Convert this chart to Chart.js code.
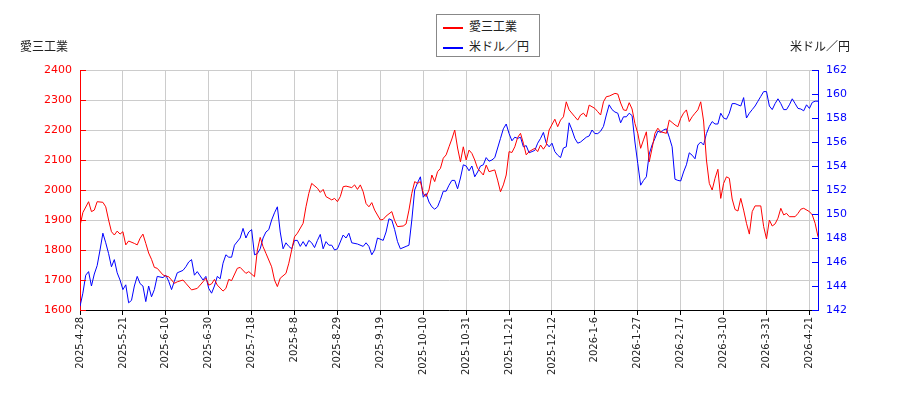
<!DOCTYPE html>
<html>
<head>
<meta charset="utf-8">
<script src="https://cdn.jsdelivr.net/npm/chart.js@4"></script>
<style>
  body { margin: 0; background: #fff; }
  .wrap { position: relative; width: 900px; height: 400px; font-family: "Noto Sans CJK JP", "DejaVu Sans", sans-serif; color: #222; }
  .axis-title { position: absolute; top: 37px; font-size: 12px; }
  .legend { position: absolute; left: 436px; top: 14px; width: 102px; height: 41px; border: 1px solid #888; background: #fff; font-size: 12px; }
  .legend div { position: absolute; left: 6px; height: 16px; line-height: 16px; }
  .legend i { display: inline-block; width: 20px; height: 0; border-top: 2px solid; vertical-align: middle; margin-right: 6px; }
</style>
</head>
<body>
<div class="wrap">
  <canvas id="myChart" width="900" height="400"></canvas>
  <div class="axis-title" style="left:20px">愛三工業</div>
  <div class="axis-title" style="left:790px">米ドル／円</div>
  <div class="legend">
    <div style="top:3px"><i style="border-color:#f00"></i>愛三工業</div>
    <div style="top:23px"><i style="border-color:#00f"></i>米ドル／円</div>
  </div>
</div>
<script>
// tick labels, one every 15 trading days
const dateLabels = [
  "2025-4-28", "2025-5-21", "2025-6-10", "2025-6-30", "2025-7-18", "2025-8-8",
  "2025-8-29", "2025-9-19", "2025-10-10", "2025-10-31", "2025-11-21", "2025-12-12",
  "2026-1-6", "2026-1-27", "2026-2-17", "2026-3-10", "2026-3-31", "2026-4-21",
];

// 愛三工業 (trading day index, price)
const aisanDay = [
  0, 1, 3, 4, 5, 6, 8, 9, 10, 11, 12, 13, 14, 15, 16, 17, 19, 20, 21, 22,
  23, 24, 25, 26, 27, 29, 30, 31, 32, 33, 34, 36, 37, 39, 41, 43, 44, 45, 46, 47,
  48, 50, 51, 52, 53, 55, 56, 58, 59, 61, 62, 63, 64, 65, 67, 68, 69, 70, 72, 73,
  74, 75, 76, 78, 79, 80, 81, 83, 84, 85, 86, 88, 89, 90, 91, 92, 93, 95, 96, 97,
  98, 99, 100, 101, 102, 103, 105, 106, 107, 109, 110, 111, 113, 114, 115, 116, 117, 118, 119, 120,
  121, 122, 123, 124, 125, 126, 127, 128, 129, 130, 131, 132, 133, 134, 135, 136, 137, 138, 139, 141,
  142, 143, 145, 146, 147, 148, 149, 150, 151, 152, 153, 154, 155, 156, 157, 159, 160, 161, 162, 163,
  164, 166, 167, 168, 169, 170, 171, 173, 174, 175, 176, 177, 178, 180, 181, 182, 183, 184, 185, 187,
  188, 189, 190, 191, 192, 193, 194, 195, 196, 197, 198, 199, 200, 201, 202, 203, 205, 206, 207, 208,
  209, 210, 211, 212, 213, 214, 215, 216, 217, 218, 219, 220, 221, 222, 223, 224, 225, 226, 227, 228,
  229, 230, 231, 232, 233, 234, 235, 236, 238, 239, 240, 241, 242, 243, 244, 245, 246, 247, 248, 250,
  251, 252, 253, 255, 256, 257, 258,
];
const aisanClose = [
  1880, 1925, 1961, 1928, 1933, 1961, 1959, 1944, 1900, 1861, 1850, 1863, 1853, 1861, 1817, 1830, 1822, 1817, 1839, 1853,
  1822, 1790, 1769, 1742, 1739, 1717, 1713, 1711, 1700, 1689, 1694, 1700, 1689, 1667, 1672, 1694, 1706, 1683, 1687, 1702,
  1683, 1663, 1672, 1702, 1698, 1739, 1742, 1722, 1728, 1711, 1800, 1842, 1811, 1789, 1744, 1700, 1678, 1706, 1722, 1756,
  1800, 1844, 1856, 1889, 1944, 1989, 2022, 2006, 1992, 2002, 1978, 1967, 1972, 1961, 1978, 2011, 2013, 2008, 2017, 2002,
  2017, 1994, 1955, 1944, 1958, 1933, 1900, 1902, 1913, 1928, 1898, 1878, 1880, 1887, 1933, 1989, 2028, 2022, 2028, 1989,
  1978, 2000, 2050, 2028, 2061, 2072, 2106, 2117, 2144, 2170, 2200, 2140, 2094, 2144, 2100, 2133, 2122, 2100, 2072, 2050,
  2083, 2061, 2067, 2033, 1994, 2017, 2050, 2128, 2125, 2144, 2175, 2189, 2156, 2117, 2128, 2139, 2128, 2150, 2136, 2150,
  2200, 2236, 2211, 2233, 2244, 2294, 2267, 2244, 2233, 2250, 2256, 2244, 2283, 2272, 2261, 2250, 2294, 2311, 2313, 2322,
  2320, 2290, 2267, 2265, 2291, 2270, 2222, 2189, 2139, 2167, 2194, 2094, 2139, 2189, 2206, 2194, 2189, 2233, 2225, 2217,
  2211, 2239, 2256, 2267, 2228, 2244, 2256, 2267, 2294, 2230, 2100, 2022, 2000, 2039, 2069, 1972, 2022, 2044, 2039, 1970,
  1935, 1930, 1972, 1933, 1889, 1853, 1928, 1947, 1947, 1878, 1837, 1900, 1880, 1887, 1906, 1939, 1917, 1922, 1911, 1911,
  1922, 1936, 1939, 1928, 1917, 1889, 1844,
];

// 米ドル／円 (trading day index, rate)
const usdDay = [
  0, 1, 2, 3, 4, 5, 6, 7, 8, 9, 10, 11, 12, 13, 14, 15, 16, 17, 18, 19,
  20, 21, 22, 23, 24, 25, 26, 27, 29, 30, 31, 32, 33, 34, 36, 37, 38, 39, 40, 41,
  43, 44, 45, 46, 47, 48, 49, 50, 51, 52, 53, 54, 56, 57, 58, 59, 60, 61, 62, 63,
  64, 65, 66, 67, 68, 69, 70, 71, 72, 73, 74, 75, 76, 77, 78, 79, 80, 81, 82, 83,
  84, 85, 86, 87, 88, 89, 90, 92, 93, 94, 95, 97, 99, 100, 101, 102, 103, 104, 106, 107,
  108, 109, 110, 111, 112, 114, 115, 116, 117, 118, 119, 120, 121, 122, 123, 124, 125, 126, 127, 128,
  129, 130, 131, 132, 133, 134, 135, 136, 137, 138, 139, 140, 141, 142, 143, 144, 145, 146, 147, 148,
  149, 150, 151, 152, 153, 154, 155, 156, 157, 158, 159, 160, 161, 162, 163, 164, 165, 166, 167, 168,
  169, 170, 171, 172, 173, 174, 175, 177, 178, 179, 180, 181, 182, 183, 184, 185, 186, 187, 188, 189,
  190, 191, 192, 193, 194, 195, 196, 197, 198, 199, 200, 201, 202, 203, 204, 205, 206, 207, 208, 209,
  210, 211, 212, 213, 214, 215, 216, 217, 218, 219, 220, 221, 222, 223, 224, 225, 226, 227, 228, 229,
  230, 231, 232, 233, 234, 235, 236, 237, 238, 239, 240, 241, 242, 243, 244, 245, 246, 247, 248, 249,
  250, 251, 252, 253, 254, 255, 256, 257, 258,
];
const usdRate = [
  142.3, 143.4, 144.9, 145.2, 144.0, 145.0, 145.7, 147.0, 148.4, 147.6, 146.7, 145.6, 146.2, 145.1, 144.5, 143.7, 144.1, 142.6, 142.8, 144.0,
  144.8, 144.2, 144.0, 142.7, 144.0, 143.1, 143.7, 144.8, 144.7, 144.9, 144.4, 143.7, 144.4, 145.1, 145.3, 145.6, 146.0, 146.2, 144.9, 145.2,
  144.5, 144.8, 143.8, 143.4, 144.0, 144.8, 144.6, 145.9, 146.6, 146.4, 146.4, 147.4, 148.0, 148.8, 148.0, 148.5, 148.7, 146.6, 146.7, 147.1,
  148.0, 148.5, 148.7, 149.5, 150.1, 150.6, 148.5, 147.1, 147.6, 147.3, 147.1, 147.8, 147.8, 147.3, 147.7, 147.3, 147.8, 147.6, 147.2, 147.8,
  148.3, 147.1, 147.7, 147.4, 147.4, 147.0, 147.1, 148.25, 148.0, 148.4, 147.6, 147.5, 147.3, 147.6, 147.3, 146.6, 147.0, 148.0, 147.8, 148.5,
  149.6, 149.5, 148.7, 147.7, 147.1, 147.3, 147.4, 149.5, 152.0, 152.6, 153.1, 151.4, 151.7, 151.0, 150.6, 150.4, 150.6, 151.2, 151.9, 151.9,
  152.4, 152.8, 152.8, 152.1, 153.0, 154.1, 154.0, 153.6, 154.0, 153.1, 153.5, 154.0, 154.1, 154.7, 154.4, 154.5, 154.7, 155.5, 156.3, 157.1,
  157.5, 156.7, 156.1, 156.4, 156.3, 156.4, 155.6, 155.7, 155.1, 155.2, 155.3, 155.9, 156.3, 156.8, 155.9, 155.6, 155.9, 155.2, 154.9, 154.7,
  155.5, 155.6, 157.6, 157.0, 156.3, 155.9, 156.0, 156.4, 156.5, 157.0, 156.7, 156.7, 156.9, 157.3, 158.25, 159.1, 158.7, 158.5, 158.4, 157.6,
  158.1, 158.1, 158.4, 158.2, 156.0, 154.2, 152.4, 152.8, 153.1, 155.0, 155.75, 156.3, 156.9, 156.8, 157.0, 157.1, 156.4, 155.6, 152.9, 152.8,
  152.75, 153.5, 154.1, 155.1, 154.9, 154.6, 155.75, 156.0, 155.75, 156.7, 157.3, 157.7, 157.5, 157.5, 158.4, 158.0, 157.9, 158.4, 159.2, 159.2,
  159.1, 159.0, 159.7, 158.0, 158.4, 158.7, 159.0, 159.4, 159.8, 160.2, 160.2, 159.0, 158.7, 159.2, 159.6, 159.2, 158.7, 158.7, 159.1, 159.6,
  159.2, 158.8, 158.75, 158.6, 159.1, 158.8, 159.3, 159.4, 159.4,
];

const lastDay = 258;
const tickFont = { family: "DejaVu Sans", size: 11 };

// short inward ticks on both value axes, long ones at labelled values
const innerTicks = {
  id: "innerTicks",
  afterDraw(chart) {
    const ctx = chart.ctx;
    const area = chart.chartArea;
    ctx.save();
    ctx.lineWidth = 1;
    chart.scales.y.ticks.forEach((t) => {
      const py = Math.round(chart.scales.y.getPixelForValue(t.value)) + 0.5;
      const len = t.value % 100 === 0 ? 6 : 3;
      ctx.strokeStyle = "#f00";
      ctx.beginPath();
      ctx.moveTo(area.left, py);
      ctx.lineTo(area.left + len, py);
      ctx.stroke();
    });
    chart.scales.y1.ticks.forEach((t) => {
      const py = Math.round(chart.scales.y1.getPixelForValue(t.value)) + 0.5;
      const len = t.value % 2 === 0 ? 6 : 3;
      ctx.strokeStyle = "#00f";
      ctx.beginPath();
      ctx.moveTo(area.right - len, py);
      ctx.lineTo(area.right, py);
      ctx.stroke();
    });
    ctx.restore();
  },
};

const chartConfig = {
  type: "line",
  data: {
    datasets: [
      {
        label: "愛三工業",
        data: aisanDay.map((d, i) => ({ x: d, y: aisanClose[i] })),
        borderColor: "#f00",
        borderWidth: 1,
        pointRadius: 0,
        yAxisID: "y",
      },
      {
        label: "米ドル／円",
        data: usdDay.map((d, i) => ({ x: d, y: usdRate[i] })),
        borderColor: "#00f",
        borderWidth: 1,
        pointRadius: 0,
        yAxisID: "y1",
      },
    ],
  },
  options: {
    responsive: false,
    animation: false,
    layout: { padding: { top: 70, left: 0, right: 0, bottom: 0 } },
    plugins: { legend: { display: false }, tooltip: { enabled: false } },
    scales: {
      x: {
        type: "linear",
        min: 0,
        max: lastDay,
        afterFit(scale) {
          scale.height = 90;
        },
        ticks: {
          stepSize: 15,
          includeBounds: false,
          autoSkip: false,
          minRotation: 90,
          maxRotation: 90,
          padding: 2,
          color: "#222",
          font: { family: "DejaVu Sans", size: 10 },
          callback: (v) => (v % 15 === 0 ? dateLabels[v / 15] : ""),
        },
        grid: { color: "#cccccc", tickColor: "#000", tickLength: 5 },
        border: { color: "#000", width: 1 },
      },
      y: {
        position: "left",
        min: 1600,
        max: 2400,
        afterFit(scale) {
          scale.width = 80;
        },
        ticks: {
          stepSize: 50,
          padding: 8,
          color: "#f00",
          font: tickFont,
          callback: (v) => (v % 100 === 0 ? v : ""),
        },
        grid: {
          drawTicks: false,
          color: (c) => (c.tick && c.tick.value % 100 === 0 ? "#cccccc" : "rgba(0,0,0,0)"),
        },
        border: { color: "#f00", width: 1 },
      },
      y1: {
        position: "right",
        min: 142,
        max: 162,
        afterFit(scale) {
          scale.width = 82;
        },
        ticks: {
          stepSize: 1,
          padding: 8,
          color: "#00f",
          font: tickFont,
          callback: (v) => (v % 2 === 0 ? v : ""),
        },
        grid: { drawTicks: false, drawOnChartArea: false },
        border: { color: "#00f", width: 1 },
      },
    },
  },
  plugins: [innerTicks],
};

const myChart = new Chart(document.getElementById("myChart"), chartConfig);
</script>
</body>
</html>
